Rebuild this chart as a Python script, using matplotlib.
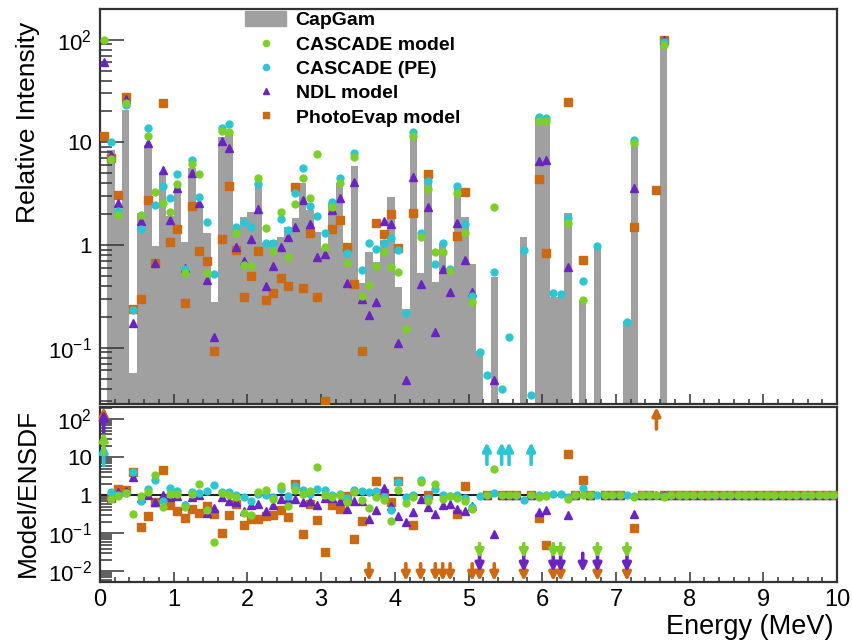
import numpy as np
import matplotlib
matplotlib.use('Agg')
import matplotlib.pyplot as plt
import matplotlib.patches as mpatches
from matplotlib.lines import Line2D
from matplotlib.ticker import FixedLocator, NullFormatter, MultipleLocator

plt.rcParams['font.family'] = ['Liberation Sans', 'DejaVu Sans']
plt.rcParams['mathtext.fontset'] = 'custom'
plt.rcParams['mathtext.rm'] = 'Liberation Sans'

# ── Data: 0.1 MeV bins starting at 0 ──────────────────────────────────────────
N_BINS = 100
BIN_W = 0.1

# CapGam (ENSDF) binned intensities, bins 0..76; everything above is empty
CAPGAM = [
    0, 8.4, 2.1, 20.6, 0.057, 2.05, 9.4, 0.98, 5.2, 1.9,
    3.7, 1.07, 5.6, 2.5, 1.3, 0.28, 11.3, 12.2, 1.47, 1.86,
    2.1, 3.67, 1.04, 1.12, 1.2, 1.5, 1.82, 4.0, 2.19, 1.35,
    0.93, 2.55, 4.0, 1.0, 5.9, 0.43, 0.86, 0.69, 1.12, 2.95,
    0.39, 0.24, 12.7, 0.53, 4.8, 0.44, 1.04, 0.6, 3.7, 1.87,
    0.65, 0.092, 0, 0.49, 0, 0, 0, 1.2, 0, 17.8,
    17.0, 0.31, 0.31, 2.05, 0, 0.29, 0, 0.96, 0, 0,
    0, 0.18, 11.0, 0, 0, 0, 100,
]

CASCADE = [
    99, 6.9, 1.96, 24, 0.018, 1.96, 11.5, 3.3, 2.55, 2.1,
    3.9, 0.54, 6.1, 4.9, 0.54, 0.017, 12.9, 12.5, 1.3, 0.64,
    0.63, 4.45, 1.47, 0.88, 2.08, 0.77, 2.5, 4.45, 2.9, 7.7,
    0.96, 2.36, 4.0, 0.67, 7.2, 0.32, 0.41, 0.63, 0.85, 0.61,
    0.55, 0.151, 11.5, 1.19, 3.5, 0.85, 0.85, 0.56, 3.23, 1.3,
    0.28, 0, 0, 2.36, 0, 0, 0, 0, 0, 16.2,
    16.0, 0, 0, 1.65, 0, 0.29, 0, 0, 0, 0,
    0, 0, 9.9, 0, 0, 0, 88.6,
]

CASCADE_PE = [
    0, 10, 2.15, 23, 0.233, 1.42, 13.7, 2.45, 3.75, 2.9,
    4.9, 0.59, 6.7, 2.95, 1.69, 0.52, 13.7, 15, 1.5, 1.69,
    1.49, 3.9, 1.04, 1.04, 1.79, 1.4, 3.2, 5.6, 2.4, 1.93,
    1.3, 2.64, 4.45, 0.83, 7.9, 0.57, 1.05, 0.91, 1.04, 1.18,
    0.89, 0.216, 12.7, 1.32, 4.2, 0.65, 1.04, 0.59, 3.8, 1.6,
    0.32, 0.09, 0.054, 0.55, 0.04, 0.127, 0, 0.89, 0.035, 17.8,
    17.2, 0.34, 0.33, 1.82, 0, 0.45, 0, 0.98, 0, 0,
    0, 0.18, 10.5, 0, 0, 0, 95,
]

NDL = [
    61, 7.5, 2.56, 26.3, 0.175, 1.72, 9.8, 0.67, 5.4, 1.75,
    3.6, 0.6, 5.06, 2.55, 0.456, 0.127, 10.3, 8.9, 0.96, 0.70,
    1.14, 2.22, 0.40, 0.63, 0.96, 1.2, 1.5, 2.74, 1.59, 0.77,
    0.81, 2.19, 2.85, 0.43, 4.1, 0.3, 0.21, 0.277, 1.72, 1.59,
    0.112, 0.048, 4.56, 0.42, 2.33, 0.143, 0.58, 0.35, 1.63, 0.72,
    0.35, 0, 0, 0.048, 0, 0, 0, 0, 0, 6.6,
    6.8, 0, 0, 0.61, 0, 0, 0, 0, 0, 0,
    0, 0, 3.57, 0, 0, 0, 100,
]

PHOTOEVAP = [
    11.5, 7.0, 3.1, 27.8, 0.24, 0.30, 2.74, 0.67, 24, 1.08,
    1.42, 0.27, 2.4, 0.88, 0.70, 0.093, 1.14, 3.75, 0.89, 0.31,
    0.50, 0.88, 0.29, 0.34, 0.48, 0.40, 3.65, 0.38, 1.3, 0.31,
    0.03, 1.42, 1.75, 0.96, 0.42, 0.093, 0, 1.63, 1.28, 2.0,
    0.93, 0, 2.06, 0, 4.9, 0, 0, 0, 1.22, 3.3,
    0, 0, 0, 0, 0, 0, 0, 0, 0, 4.4,
    0.83, 0, 0, 25, 0, 0.71, 0, 0, 0, 0,
    0, 0, 1.49, 0, 0, 3.43, 100,
]

# first bin has no CapGam entry: ratio arrows drawn at these levels instead
BIN0_ARROW_BASE = {'CASCADE model': 12, 'CASCADE (PE)': 6,
                   'NDL model': 45, 'PhotoEvap model': 110}

# ── Styles ────────────────────────────────────────────────────────────────────
BAR_COLOR = '#a0a0a0'
SERIES = [
    # name, data, color, marker, size, down-arrow base, down-arrow tip
    ('PhotoEvap model', PHOTOEVAP,  '#cc6a14', 's', 5.4, 0.016, 0.0056),
    ('NDL model',       NDL,        '#6a24c0', '^', 5.2, 0.030, 0.0097),
    ('CASCADE (PE)',    CASCADE_PE, '#2cc6d2', 'o', 5.0, 0.050, 0.020),
    ('CASCADE model',   CASCADE,    '#7ccf2a', 'o', 5.0, 0.054, 0.022),
]
LEGEND_ORDER = ['CASCADE model', 'CASCADE (PE)', 'NDL model', 'PhotoEvap model']
SPINE = '#333333'


def pad(vals):
    out = np.zeros(N_BINS)
    out[:len(vals)] = vals
    return out


def style_axis(ax):
    for sp in ax.spines.values():
        sp.set_color(SPINE)
        sp.set_linewidth(1.6)
    ax.tick_params(which='both', direction='in', top=False, right=False,
                   color=SPINE, width=1.1)
    ax.tick_params(axis='x', which='major', length=7.5)
    ax.tick_params(axis='x', which='minor', length=3.8)
    ax.tick_params(axis='y', which='major', length=17)
    ax.tick_params(axis='y', which='minor', length=8.5)
    ax.set_xlim(0, 10)
    ax.xaxis.set_major_locator(MultipleLocator(1))
    ax.xaxis.set_minor_locator(MultipleLocator(0.2))


def log_ticks(ax, decades, labels):
    ax.yaxis.set_major_locator(FixedLocator([10.0 ** d for d in decades]))
    ax.set_yticklabels(labels)
    minors = [m * 10.0 ** d for d in range(decades[0] - 1, decades[-1] + 1)
              for m in range(2, 10)]
    ax.yaxis.set_minor_locator(FixedLocator(minors))
    ax.yaxis.set_minor_formatter(NullFormatter())


def arrow(ax, x, y0, y1, col):
    ax.annotate('', xy=(x, y1), xytext=(x, y0),
                arrowprops=dict(arrowstyle='-|>', color=col, lw=2.6,
                                mutation_scale=12, shrinkA=0, shrinkB=0),
                zorder=4)


centers = (np.arange(N_BINS) + 0.5) * BIN_W
capgam = pad(CAPGAM)

fig = plt.figure(figsize=(8.52, 6.43), dpi=100)
L, W = 100 / 852, 737 / 852
ax1 = fig.add_axes([L, 1 - 404 / 643, W, 395 / 643])
ax2 = fig.add_axes([L, 1 - 582 / 643, W, 175 / 643])

# ── Top panel: intensities ───────────────────────────────────────────────────
ax1.set_yscale('log')
ax1.set_ylim(0.0283, 199)
mask = capgam > 0
ax1.bar(centers[mask], capgam[mask], width=BIN_W, bottom=1e-4,
        color=BAR_COLOR, linewidth=0, zorder=1)
for name, vals, col, mk, ms, _, _ in SERIES:
    v = pad(vals)
    v = np.where(v > 0, v, np.nan)
    ax1.plot(centers, v, ls='none', marker=mk, ms=ms, color=col,
             mec=col, zorder=3)
style_axis(ax1)
log_ticks(ax1, [-1, 0, 1, 2], [r'$\mathregular{10^{-1}}$', '1', '10',
                               r'$\mathregular{10^{2}}$'])
ax1.tick_params(axis='x', labelbottom=False)
ax1.tick_params(axis='y', labelsize=16, pad=6)

handles = [mpatches.Patch(color=BAR_COLOR, label='CapGam')]
by_name = {s[0]: s for s in SERIES}
for name in LEGEND_ORDER:
    _, _, col, mk, ms, _, _ = by_name[name]
    handles.append(Line2D([], [], ls='none', marker=mk, ms=ms - 0.6,
                          color=col, label=name))
ax1.legend(handles=handles, loc='upper left', bbox_to_anchor=(0.197, 0.995),
           frameon=False, handlelength=2.1, handleheight=0.85,
           handletextpad=0.5, labelspacing=0.3, borderpad=0.0,
           borderaxespad=0.0, prop={'weight': 'bold', 'size': 14})

# ── Bottom panel: ratio to ENSDF ─────────────────────────────────────────────
ax2.set_yscale('log')
ax2.set_ylim(0.0053, 208)
ax2.axhline(1, color='#222222', lw=1.5, zorder=2)
top_lim = ax2.get_ylim()[1]

for name, vals, col, mk, ms, dn_base, dn_tip in SERIES:
    v = pad(vals)
    rx, ry, ups, downs = [], [], [], []
    for k in range(N_BINS):
        if k == 0:
            ups.append((centers[k], BIN0_ARROW_BASE[name]))
        elif capgam[k] > 0 and v[k] > 0:
            rx.append(centers[k]); ry.append(v[k] / capgam[k])
        elif capgam[k] > 0:
            downs.append(centers[k])
        elif v[k] > 0:
            base = 6.5 if v[k] / 0.01 < top_lim else 55
            ups.append((centers[k], base))
        else:
            rx.append(centers[k]); ry.append(1.0)
    ax2.plot(rx, ry, ls='none', marker=mk, ms=ms, color=col, mec=col,
             zorder=3)
    for x, base in ups:
        arrow(ax2, x, base, min(base * 3.8, top_lim), col)
    for x in downs:
        arrow(ax2, x, dn_base, dn_tip, col)

style_axis(ax2)
log_ticks(ax2, [-2, -1, 0, 1, 2], [r'$\mathregular{10^{-2}}$',
                                   r'$\mathregular{10^{-1}}$', '1', '10',
                                   r'$\mathregular{10^{2}}$'])
ax2.tick_params(axis='y', labelsize=16, pad=6)
ax2.tick_params(axis='x', labelsize=17, pad=5)
ax2.xaxis.set_major_locator(FixedLocator(list(range(11))))
ax2.set_xticklabels([str(i) for i in range(11)])

# axis titles (ROOT style, aligned to the axis ends)
fig.text(28 / 852, 1 - 122 / 643, 'Relative Intensity', rotation=90,
         ha='center', va='center', fontsize=19)
fig.text(28 / 852, 1 - 493 / 643, 'Model/ENSDF', rotation=90,
         ha='center', va='center', fontsize=19)
fig.text(833 / 852, 1 - 627 / 643, 'Energy (MeV)', ha='right',
         va='center', fontsize=19.5)

fig.savefig('out.png', dpi=100)
